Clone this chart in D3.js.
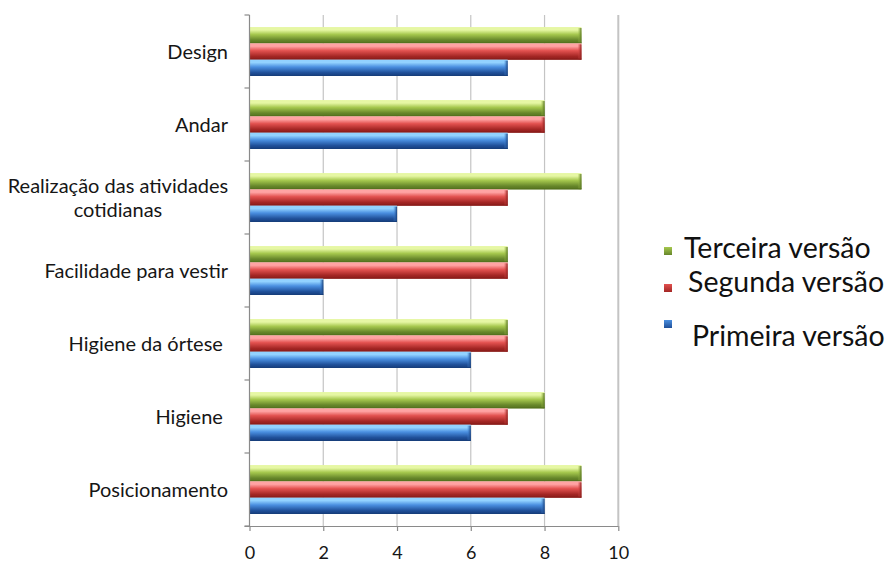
<!DOCTYPE html>
<html>
<head>
<meta charset="utf-8">
<script src="https://cdn.jsdelivr.net/npm/d3@7"></script>
<style>
  html, body { margin: 0; padding: 0; background: #fff; }
  svg { display: block; }
</style>
</head>
<body>
<svg id="chart" width="892" height="564"></svg>
<script>
// Evaluation categories, listed top to bottom
const categories = [
  "Design",
  "Andar",
  "Realização das atividades cotidianas",
  "Facilidade para vestir",
  "Higiene da órtese ",
  "Higiene ",
  "Posicionamento"
];
// Series, drawn top to bottom inside each category
const seriesNames = ["Terceira versão", "Segunda versão", "Primeira versão"];
const terceira = [9, 8, 9, 7, 7, 8, 9];
const segunda  = [9, 8, 7, 7, 7, 7, 9];
const primeira = [7, 7, 4, 2, 6, 6, 8];
const xTicks = [0, 2, 4, 6, 8, 10];

const seriesValues = [terceira, segunda, primeira];
const palettes = [
  { light: "#e6f7a4", mid: "#a6c84e", dark: "#66862a", edge: "#55721f" },
  { light: "#ffa3a3", mid: "#e2514f", dark: "#a32624", edge: "#8a1c1a" },
  { light: "#92d2ff", mid: "#4a8fe0", dark: "#1f4f98", edge: "#173f7c" }
];

const svg = d3.select("#chart");
const font = "Lato, 'Open Sans', sans-serif";

const x = d3.scaleLinear().domain([0, 10]).range([249.5, 618.3]);
const y = d3.scaleBand().domain(categories).range([15, 526])
  .paddingInner(0.33).paddingOuter(0.165);
const ySub = d3.scaleBand().domain(seriesNames).range([0, y.bandwidth()]);

// gradients giving the bars their rounded, glossy look
const defs = svg.append("defs");
palettes.forEach((p, i) => {
  const g = defs.append("linearGradient").attr("id", "bar" + i)
    .attr("x1", 0).attr("y1", 0).attr("x2", 0).attr("y2", 1);
  g.append("stop").attr("offset", 0).attr("stop-color", p.light);
  g.append("stop").attr("offset", 0.18).attr("stop-color", p.light);
  g.append("stop").attr("offset", 0.45).attr("stop-color", p.mid);
  g.append("stop").attr("offset", 0.8).attr("stop-color", p.dark);
  g.append("stop").attr("offset", 1).attr("stop-color", p.edge);
  const c = defs.append("linearGradient").attr("id", "cap" + i)
    .attr("x1", 0).attr("y1", 0).attr("x2", 1).attr("y2", 0);
  c.append("stop").attr("offset", 0).attr("stop-color", p.mid).attr("stop-opacity", 0);
  c.append("stop").attr("offset", 1).attr("stop-color", p.edge);
  const m = defs.append("linearGradient").attr("id", "mark" + i)
    .attr("x1", 0).attr("y1", 0).attr("x2", 0).attr("y2", 1);
  m.append("stop").attr("offset", 0).attr("stop-color", p.mid);
  m.append("stop").attr("offset", 1).attr("stop-color", p.dark);
});

// vertical gridlines
svg.append("g").selectAll("line").data(xTicks).join("line")
  .attr("x1", d => x(d)).attr("x2", d => x(d))
  .attr("y1", 15).attr("y2", 526)
  .attr("stroke", d => d === 0 ? "none" : "#c4c4c4")
  .attr("stroke-width", d => d === 10 ? 2 : 1.2);

// bars
const groups = svg.append("g").selectAll("g").data(seriesNames).join("g");
groups.each(function(name, si) {
  const g = d3.select(this);
  const vals = seriesValues[si];
  const data = categories.map((c, ci) => ({ c, v: vals[ci] }));
  const h = ySub.bandwidth();
  g.selectAll("rect.body").data(data).join("rect").attr("class", "body")
    .attr("x", x(0)).attr("y", d => y(d.c) + ySub(name))
    .attr("width", d => x(d.v) - x(0)).attr("height", h)
    .attr("fill", `url(#bar${si})`);
  g.selectAll("rect.cap").data(data).join("rect").attr("class", "cap")
    .attr("x", d => x(d.v) - 4).attr("y", d => y(d.c) + ySub(name) + 1)
    .attr("width", 4).attr("height", h - 1)
    .attr("fill", `url(#cap${si})`);
  g.selectAll("line.base").data(data).join("line").attr("class", "base")
    .attr("x1", x(0)).attr("x2", d => x(d.v))
    .attr("y1", d => y(d.c) + ySub(name) + h - 0.5)
    .attr("y2", d => y(d.c) + ySub(name) + h - 0.5)
    .attr("stroke", palettes[si].edge).attr("stroke-width", 1);
});

// category axis with ticks on the category boundaries
const yAxis = svg.append("g");
yAxis.append("line").attr("x1", x(0)).attr("x2", x(0)).attr("y1", 15).attr("y2", 526)
  .attr("stroke", "#8a8a8a").attr("stroke-width", 1.2);
const boundaries = categories.map((c, i) => 15 + i * y.step()).concat([526]);
yAxis.selectAll("line.tick").data(boundaries).join("line").attr("class", "tick")
  .attr("x1", x(0) - 5).attr("x2", x(0)).attr("y1", d => d).attr("y2", d => d)
  .attr("stroke", "#8a8a8a").attr("stroke-width", 1.2);

// category labels, wrapped where needed
const labelWrap = {
  "Realização das atividades cotidianas": ["Realização das atividades", "cotidianas"]
};
const labels = svg.append("g").attr("font-family", font).attr("font-size", 20)
  .attr("fill", "#161616");
categories.forEach(c => {
  const lines = labelWrap[c] || [c];
  const cy = y(c) + y.bandwidth() / 2;
  const lh = 24;
  lines.forEach((ln, i) => {
    const t = labels.append("text")
      .attr("y", cy + (i - (lines.length - 1) / 2) * lh)
      .attr("dy", "0.35em")
      .attr("xml:space", "preserve")
      .style("white-space", "pre")
      .text(ln);
    if (lines.length > 1) {
      t.attr("x", 118).attr("text-anchor", "middle");
    } else {
      t.attr("x", 228).attr("text-anchor", "end");
    }
  });
});

// value axis
const xAxis = d3.axisBottom(x).tickValues(xTicks).tickSize(5).tickSizeOuter(0);
const xg = svg.append("g").attr("transform", "translate(0,526)").call(xAxis);
xg.select(".domain").attr("stroke", "#8a8a8a").attr("stroke-width", 1.2)
  .attr("d", `M${x(0) - 5},0.5H${x(10)}`);
xg.selectAll(".tick line").attr("stroke", "#8a8a8a").attr("stroke-width", 1.2);
xg.selectAll(".tick text").attr("font-family", font).attr("font-size", 18)
  .attr("fill", "#161616").attr("dy", "0.35em").attr("y", 27);

// legend
const legendItems = [
  { name: "Terceira versão", mx: 668, tx: 684, ty: 248, my: 251 },
  { name: "Segunda versão", mx: 668, tx: 688, ty: 282, my: 288 },
  { name: "Primeira versão", mx: 668, tx: 692, ty: 336, my: 324 }
];
const legend = svg.append("g");
legendItems.forEach((it, i) => {
  legend.append("rect").attr("x", it.mx - 4).attr("y", it.my - 4)
    .attr("width", 8).attr("height", 8).attr("fill", `url(#mark${i})`);
  legend.append("text").attr("x", it.tx).attr("y", it.ty).attr("dy", "0.35em")
    .attr("font-family", font).attr("font-size", 28.5).attr("fill", "#111")
    .text(it.name);
});
</script>
</body>
</html>
